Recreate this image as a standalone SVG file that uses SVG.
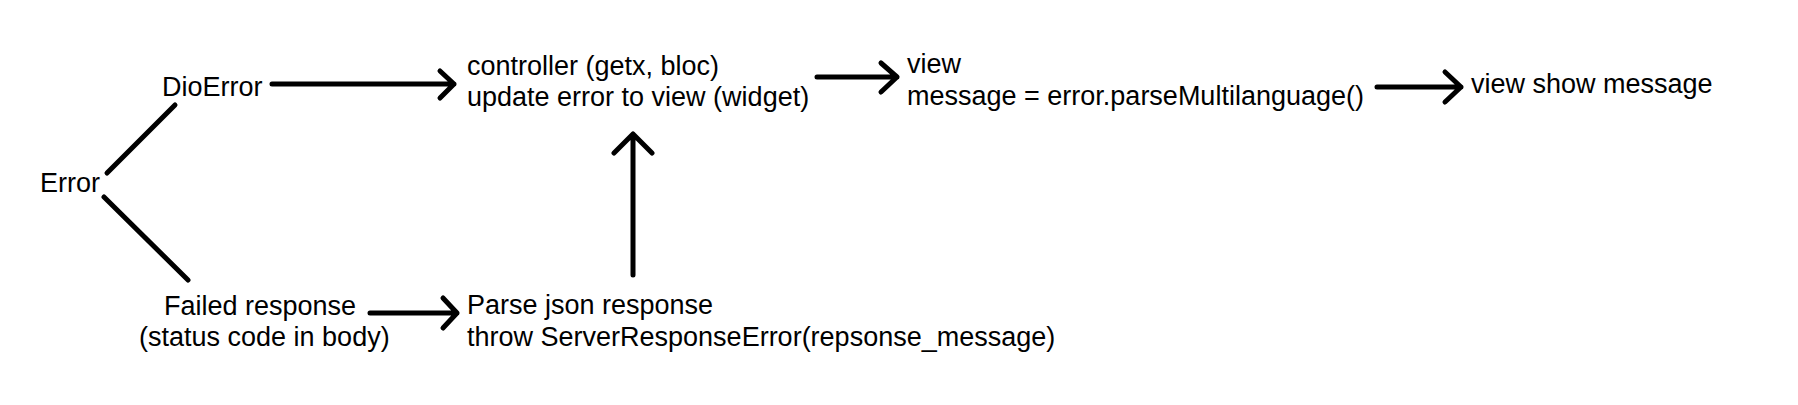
<svg xmlns="http://www.w3.org/2000/svg" width="1798" height="405" viewBox="0 0 1798 405">
<style>
text{font-family:"Liberation Sans",Arial,sans-serif;font-size:27px;fill:#000}
.c path{fill:none;stroke:#000;stroke-width:5;stroke-linecap:round;stroke-linejoin:round}
</style>
<rect width="1798" height="405" fill="#fff"/>
<g id="error"><text x="40" y="192">Error</text></g>
<g id="dioerror"><text x="162" y="96">DioError</text></g>
<g id="failed"><text x="164" y="315">Failed response</text><text x="139" y="346">(status code in body)</text></g>
<g id="controller"><text x="467" y="75">controller (getx, bloc)</text><text x="467" y="106">update error to view (widget)</text></g>
<g id="parse"><text x="467" y="314">Parse json response</text><text x="467" y="346">throw ServerResponseError(repsonse_message)</text></g>
<g id="view"><text x="907" y="73">view</text><text x="907" y="105">message = error.parseMultilanguage()</text></g>
<g id="show"><text x="1471" y="93">view show message</text></g>
<g class="c" id="connectors">
<path d="M107 173L175 105"/>
<path d="M104 197L188 280"/>
<path d="M272 84H454M440 71L454 84L440 98"/>
<path d="M370 313H457M443 298L457 313L443 328"/>
<path d="M633 275V134M614 153L633 134L652 153"/>
<path d="M817 77H897M881 63L897 77L881 92"/>
<path d="M1377 87H1461M1445 72L1461 87L1445 102"/>
</g>
</svg>
